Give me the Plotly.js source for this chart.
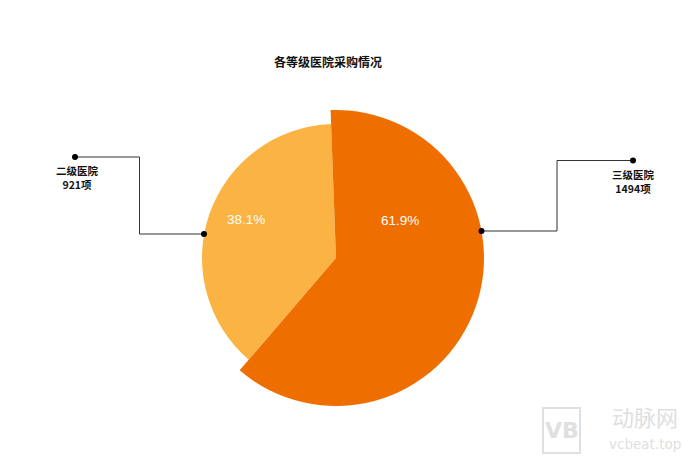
<!DOCTYPE html>
<html>
<head>
<meta charset="utf-8">
<script src="https://cdn.plot.ly/plotly-3.0.1.min.js"></script>
<style>html,body{margin:0;padding:0;background:#fff;}#chart{width:700px;height:459px;}</style>
</head>
<body>
<div id="chart"></div>
<script>
// ---- data ----
var categories = ['三级医院', '二级医院'];
var counts = [1494, 921];
var unit = '项';
var colors = ['#EE6E00', '#FBB444'];
var chartTitle = '各等级医院采购情况';

// ---- build ----
var total = counts.reduce(function (a, b) { return a + b; }, 0);
var pcts = counts.map(function (v) { return (v / total * 100).toFixed(1) + '%'; });
var W = 700, H = 459;
var cx = 336, cy = 258, rBig = 148, rSmall = 134;
function dom(r) {
  return {x: [(cx - r) / W, (cx + r) / W], y: [(H - cy - r) / H, (H - cy + r) / H]};
}
var clear = 'rgba(0,0,0,0)';
var common = {type: 'pie', labels: categories, values: counts, sort: false,
  direction: 'clockwise', rotation: -2.1, textinfo: 'none', hoverinfo: 'skip',
  showlegend: false};
var traceBig = Object.assign({}, common, {domain: dom(rBig),
  marker: {colors: [colors[0], clear], line: {width: 0}}});
var traceSmall = Object.assign({}, common, {domain: dom(rSmall),
  marker: {colors: [clear, colors[1]], line: {width: 0}}});

function px(x) { return x / W; }
function py(y) { return 1 - y / H; }
var lineStyle = {color: '#333333', width: 1};
var shapes = [];
// left callout (二级医院)
shapes.push({type: 'path', xref: 'paper', yref: 'paper',
  path: 'M' + px(75) + ',' + py(157) + ' L' + px(139.5) + ',' + py(157) + ' L' + px(139.5) + ',' + py(234) + ' L' + px(204) + ',' + py(234),
  line: lineStyle});
// right callout (三级医院)
shapes.push({type: 'path', xref: 'paper', yref: 'paper',
  path: 'M' + px(481.5) + ',' + py(231) + ' L' + px(557) + ',' + py(231) + ' L' + px(557) + ',' + py(160.5) + ' L' + px(633) + ',' + py(160.5),
  line: lineStyle});
var dots = [[75, 157], [204, 234], [481.5, 231], [633, 160.5]];
dots.forEach(function (d) {
  shapes.push({type: 'circle', xref: 'paper', yref: 'paper',
    x0: px(d[0] - 3), x1: px(d[0] + 3), y0: py(d[1] + 3), y1: py(d[1] - 3),
    fillcolor: '#000', line: {width: 0}});
});

function ann(x, y, text, font) {
  return {x: px(x), y: py(y), xref: 'paper', yref: 'paper', showarrow: false,
    xanchor: 'center', yanchor: 'middle', align: 'center', text: text, font: font};
}
var labelFont = {family: '"Noto Sans CJK SC", sans-serif', size: 10.5, color: '#111'};
var pctFont = {family: 'Liberation Sans, Arial, sans-serif', size: 13.5, color: '#fff'};
var wm = '#e0e0e0';
var annotations = [
  ann(77, 177.5, '<b>' + categories[1] + '<br>' + counts[1] + unit + '</b>', labelFont),
  ann(633, 181.5, '<b>' + categories[0] + '<br>' + counts[0] + unit + '</b>', labelFont),
  ann(399.5, 220, pcts[0], pctFont),
  ann(245.5, 219.5, pcts[1], pctFont),
  // watermark
  ann(645, 416, '动脉网', {family: '"Noto Sans CJK SC", sans-serif', size: 22, color: wm}),
  ann(645, 444, 'vcbeat.top', {family: 'DejaVu Sans, sans-serif', size: 13.5, color: wm}),
  ann(561.5, 430, '<b>VB</b>', {family: 'DejaVu Sans, sans-serif', size: 22, color: wm})
];
shapes.push({type: 'rect', xref: 'paper', yref: 'paper', x0: px(543), x1: px(580), y0: py(453), y1: py(408),
  line: {color: wm, width: 2}, fillcolor: 'rgba(0,0,0,0)'});

var layout = {
  width: W, height: H,
  margin: {l: 0, r: 0, t: 0, b: 0},
  paper_bgcolor: '#ffffff',
  title: {text: '<b>' + chartTitle + '</b>', x: px(328), y: py(62.5), xanchor: 'center', yanchor: 'middle',
    font: {family: '"Noto Sans CJK SC", sans-serif', size: 12, color: '#111'}},
  shapes: shapes,
  annotations: annotations,
  showlegend: false
};
Plotly.newPlot('chart', [traceSmall, traceBig], layout, {displayModeBar: false, staticPlot: true});
</script>
</body>
</html>
